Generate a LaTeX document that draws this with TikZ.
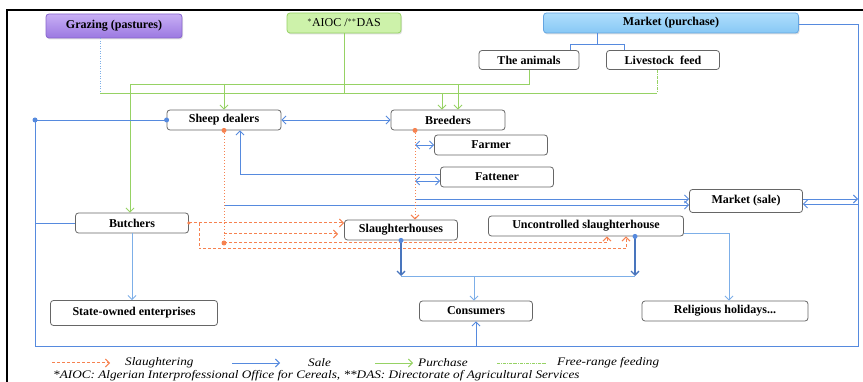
\documentclass[tikz,border=0pt]{standalone}
\usepackage{fontspec}
\setmainfont{Liberation Serif}
\newfontfamily\legfont[FakeStretch=1.15]{Liberation Serif}
\usepackage{xcolor}
\usetikzlibrary{arrows.meta,shadows}
\definecolor{salecol}{RGB}{86,138,222}
\definecolor{salelight}{RGB}{125,175,232}
\definecolor{slaughtercol}{RGB}{246,130,80}
\definecolor{buycol}{RGB}{150,210,100}
\definecolor{grazetop}{RGB}{200,175,245}
\definecolor{grazebot}{RGB}{155,120,225}
\definecolor{grazedraw}{RGB}{135,100,205}
\definecolor{aiocfill}{RGB}{205,242,170}
\definecolor{aiocdraw}{RGB}{150,210,100}
\definecolor{mkttop}{RGB}{175,222,252}
\definecolor{mktbot}{RGB}{135,200,245}
\definecolor{mktdraw}{RGB}{100,165,225}

\tikzset{
  box/.style={draw=black!60,rounded corners=3pt,fill=white,line width=0.8pt,
    inner sep=0pt,font=\bfseries\fontsize{12}{14}\selectfont},
  topbox/.style={box,drop shadow={opacity=0.25,shadow xshift=1pt,shadow yshift=-1.5pt}},
  sale/.style={draw=salecol,line width=0.9pt},
  salethin/.style={draw=salelight,line width=0.9pt},
  saledark/.style={draw=salecol!85!black,line width=1.3pt},
  slaughter/.style={draw=slaughtercol,line width=1pt,dash pattern=on 3pt off 2pt},
  slaughterdot/.style={draw=slaughtercol,line width=1pt,dotted},
  buy/.style={draw=buycol,line width=0.9pt},
  freerange/.style={draw=buycol,line width=0.7pt,dash pattern=on 3pt off 1pt on 0.8pt off 1pt},
  graze/.style={draw=salelight,line width=0.9pt,dash pattern=on 1pt off 1.5pt},
  legtext/.style={font=\legfont\itshape\fontsize{11.5}{12}\selectfont,inner sep=0pt,anchor=west},
  knot/.style={fill=#1,circle,inner sep=0pt,minimum size=5pt}
}

\begin{document}
\begin{tikzpicture}[x=1pt,y=-1pt,>={Straight Barb[length=4pt,width=8pt]}]
\useasboundingbox (0,0) rectangle (863,382);
\draw[line width=2pt] (7,382) -- (7,10) -- (863,10);

% sources
\node[topbox,top color=grazetop,bottom color=grazebot,draw=grazedraw,minimum width=136,minimum height=24] (grazing) at (114,26) {Grazing (pastures)};
\node[topbox,fill=aiocfill,draw=aiocdraw,minimum width=114,minimum height=20,font=\fontsize{12}{14}\selectfont] (aioc) at (344,23) {$^{*}$AIOC /$^{**}$DAS};
\node[topbox,top color=mkttop,bottom color=mktbot,draw=mktdraw,minimum width=255,minimum height=20] (mktbuy) at (671,23) {Market (purchase)};
\node[box,minimum width=100,minimum height=19] (animals) at (529,60) {The animals};
\node[box,minimum width=113,minimum height=19] (feed) at (663,60) {Livestock~~feed};

% actors
\node[box,minimum width=114,minimum height=20] (dealers) at (224,120) {Sheep dealers};
\node[box,minimum width=114,minimum height=20] (breeders) at (448,120) {Breeders};
\node[box,minimum width=113,minimum height=20] (farmer) at (491,145) {Farmer};
\node[box,minimum width=113,minimum height=20] (fattener) at (497,177) {Fattener};
\node[box,minimum width=113,minimum height=23] (mktsale) at (746,201) {Market (sale)};
\node[box,minimum width=113,minimum height=20] (butchers) at (132,223) {Butchers};
\node[box,minimum width=113,minimum height=20] (slhouses) at (401,230) {Slaughterhouses};
\node[box,minimum width=195,minimum height=20] (uncontrolled) at (586,226) {Uncontrolled slaughterhouse};

% outlets
\node[box,minimum width=167,minimum height=25] (stateent) at (134,313) {State-owned enterprises};
\node[box,minimum width=113,minimum height=20] (consumers) at (476,311) {Consumers};
\node[box,minimum width=166,minimum height=20] (holidays) at (725,311) {Religious holidays...};

% helper points
\coordinate (gA) at (130,84);
\coordinate (gB) at (100,93);
\coordinate (fX) at (657,93);
\coordinate (mB) at (597,44);
\coordinate (mL) at (570,44);
\coordinate (mR) at (624,44);
\coordinate (rTop) at (858,24);
\coordinate (rBot) at (858,346);
\coordinate (lBot) at (35,346);
\coordinate (lTop) at (35,120);
\coordinate (dropD) at (224,243);
\coordinate (dropB) at (415,220);
\coordinate (bJ) at (199,249);
\coordinate (cBus) at (474,276);
\coordinate (br1) at ([xshift=-6pt]breeders.north);
\coordinate (br2) at ([xshift=10pt]breeders.north);
\coordinate (s1) at ([yshift=2pt]mktsale.west);
\coordinate (s2) at ([yshift=-4pt]mktsale.west);
\coordinate (s3) at ([yshift=-4pt,xshift=-6pt]slhouses.west);
\coordinate (u1) at ([xshift=21pt]uncontrolled.south);
\coordinate (u2) at ([xshift=40pt]uncontrolled.south);
\coordinate (uD) at ([xshift=49pt]uncontrolled.south);
\coordinate (hX) at ([xshift=4pt]holidays.north);
\coordinate (f1) at ([yshift=3pt]fattener.west);
\coordinate (f2) at ([yshift=-4pt]fattener.west);
\coordinate (d1) at ([xshift=16pt]dealers.south);
\coordinate (x1) at ([yshift=2pt]mktsale.east);
\coordinate (x2) at ([yshift=-3pt]mktsale.east);

% purchase
\draw[buy] (animals.south) |- (gA);
\draw[buy,->] (gA) -- (gA |- butchers.north);
\draw[buy,->] (gA -| dealers.north) -- (dealers.north);
\draw[buy,->] (gA -| br2) -- (br2);
\draw[graze] (gB |- grazing.south) -- (gB);
\draw[buy] (gB) -- (fX);
\draw[freerange] (fX |- feed.south) -- (fX);
\draw[buy] (aioc.south) -- (aioc.south |- gB);
\draw[buy,->] (br1 |- gB) -- (br1);

% sale
\draw[sale] (mB |- mktbuy.south) -- (mB);
\draw[sale] (mL |- animals.north) |- (mR) -- (mR |- feed.north);
\draw[sale] (mktbuy.east |- rTop) -- (rTop) -- (rBot) -- (lBot) -- (lTop) -- (dealers.west);
\node[knot=salecol] at (lTop) {};
\node[knot=salecol] at (dealers.west) {};
\draw[sale] (butchers.west) -- (butchers.west -| lTop);
\draw[sale,->] (consumers.south |- rBot) -- (consumers.south);
\draw[sale,->] (x1) -- (x1 -| rTop);
\draw[sale,->] (x2 -| rTop) -- (x2);
\draw[sale,<->] (dealers.east) -- (breeders.west);
\draw[sale,<->] (dropB |- farmer.west) -- (farmer.west);
\draw[sale,<->] (dropB |- f2) -- (f2);
\draw[sale,->] (f1) -| (d1);
\draw[sale,->] (s1 -| dropB) -- (s1);
\draw[sale,->] (s2 -| dropD) -- (s2);

% slaughtering
\draw[slaughterdot] (dealers.south) -- (dropD);
\draw[slaughterdot,->] (dropB |- breeders.south) -- (dropB |- slhouses.north);
\node[knot=slaughtercol] at (dealers.south) {};
\node[knot=slaughtercol] at (dropB |- breeders.south) {};
\node[knot=slaughtercol] at (dropD) {};
\draw[slaughter,->] (butchers.east) -- (butchers.east -| slhouses.west);
\node[knot=slaughtercol,minimum size=3.5pt] at (butchers.east) {};
\draw[slaughter,->] (dropD |- s3) -- (s3);
\draw[slaughter,->] (dropD) -| (u1);
\draw[slaughter,->] (bJ |- butchers.east) -- (bJ) -| (u2);

% to consumers and others
\draw[saledark,->] (slhouses.south) -- (slhouses.south |- cBus);
\draw[saledark,->] (uD) -- (uD |- cBus);
\node[knot=salecol] at (slhouses.south) {};
\node[knot=salecol] at (uD) {};
\draw[salethin] (slhouses.south |- cBus) -- (uD |- cBus);
\draw[salethin,->] (cBus) -- (cBus |- consumers.north);
\draw[salethin,->] ([yshift=-7pt]uncontrolled.east) -| (hX);
\draw[salethin,->] (butchers.south) -- (butchers.south |- stateent.north);

% legend
\node[legtext] (lgsl) at (125,363) {Slaughtering};
\node[legtext] (lgsa) at (308,363) {Sale};
\node[legtext] (lgpu) at (418,363) {Purchase};
\node[legtext] (lgfr) at (557,363) {Free-range feeding};
\draw[slaughter,->] ([xshift=-73pt]lgsl.west) -- ([xshift=-15pt]lgsl.west);
\draw[sale,->] ([xshift=-76pt]lgsa.west) -- ([xshift=-28pt]lgsa.west);
\draw[buy,->] ([xshift=-43pt]lgpu.west) -- ([xshift=-5pt]lgpu.west);
\draw[freerange] ([xshift=-60pt]lgfr.west) -- ([xshift=-10pt]lgfr.west);
\node[legtext] (note) at (53,376) {*AIOC: Algerian Interprofessional Office for Cereals, **DAS: Directorate of Agricultural Services};
\end{tikzpicture}
\end{document}
